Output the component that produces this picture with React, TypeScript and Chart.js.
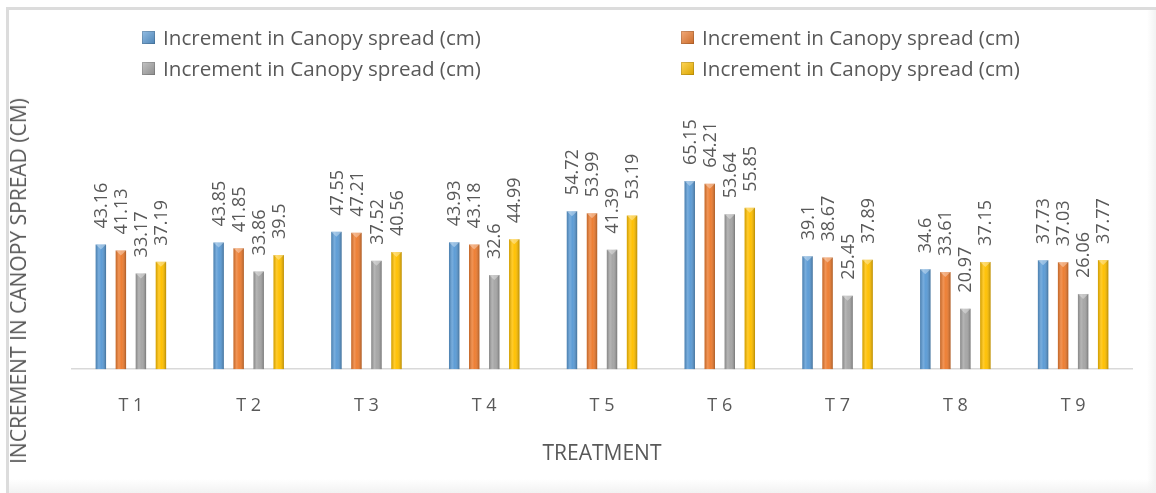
import React, { useEffect, useRef } from "react";
import { Chart, registerables } from "chart.js";

Chart.register(...registerables);

const categories = ["T 1", "T 2", "T 3", "T 4", "T 5", "T 6", "T 7", "T 8", "T 9"];
const seriesName = "Increment in Canopy spread (cm)";
const series1 = [43.16, 43.85, 47.55, 43.93, 54.72, 65.15, 39.1, 34.6, 37.73];
const series2 = [41.13, 41.85, 47.21, 43.18, 53.99, 64.21, 38.67, 33.61, 37.03];
const series3 = [33.17, 33.86, 37.52, 32.6, 41.39, 53.64, 25.45, 20.97, 26.06];
const series4 = [37.19, 39.5, 40.56, 44.99, 53.19, 55.85, 37.89, 37.15, 37.77];
const colors = ["#5B9BD5", "#ED7D31", "#A5A5A5", "#FFC000"];
const xTitle = "TREATMENT";
const yTitle = "INCREMENT IN CANOPY SPREAD (CM)";

const FONT = "'Open Sans', 'Noto Sans', sans-serif";
const TEXT = "#595959";

const bevelPlugin = {
  id: "bevel",
  afterDatasetsDraw(chart: any) {
    const ctx = chart.ctx;
    chart.data.datasets.forEach((_: any, di: number) => {
      const meta = chart.getDatasetMeta(di);
      meta.data.forEach((bar: any) => {
        const { x, y, base, width } = bar.getProps(["x", "y", "base", "width"], true);
        const l = x - width / 2;
        const r = x + width / 2;
        ctx.save();
        const g = ctx.createLinearGradient(l, 0, r, 0);
        g.addColorStop(0, "rgba(0,0,0,0.18)");
        g.addColorStop(0.3, "rgba(255,255,255,0.18)");
        g.addColorStop(0.55, "rgba(255,255,255,0.02)");
        g.addColorStop(1, "rgba(0,0,0,0.28)");
        ctx.fillStyle = g;
        ctx.fillRect(l, y, width, base - y);
        ctx.beginPath();
        ctx.moveTo(l, y);
        ctx.lineTo(r, y);
        ctx.lineTo(x, y + 5);
        ctx.closePath();
        ctx.fillStyle = "rgba(255,255,255,0.35)";
        ctx.fill();
        ctx.restore();
      });
    });
  },
};

const labelPlugin = {
  id: "vlabels",
  afterDatasetsDraw(chart: any) {
    const ctx = chart.ctx;
    chart.data.datasets.forEach((ds: any, di: number) => {
      const meta = chart.getDatasetMeta(di);
      meta.data.forEach((bar: any, i: number) => {
        const { x, y } = bar.getProps(["x", "y"], true);
        ctx.save();
        ctx.translate(x + 1, y - 16);
        ctx.rotate(-Math.PI / 2);
        ctx.font = `18px ${FONT}`;
        ctx.fillStyle = TEXT;
        ctx.textAlign = "left";
        ctx.textBaseline = "middle";
        ctx.fillText(String(ds.data[i]), 0, 0);
        ctx.restore();
      });
    });
  },
};

function LegendItem({ color, left, top }: { color: string; left: number; top: number }) {
  return (
    <div
      style={{
        position: "absolute",
        left,
        top: top - 14,
        height: 28,
        display: "flex",
        alignItems: "center",
        fontFamily: FONT,
        fontSize: 20.6,
        color: TEXT,
        whiteSpace: "nowrap",
      }}
    >
      <span
        style={{
          display: "inline-block",
          width: 13,
          height: 13,
          marginRight: 8,
          background: `linear-gradient(135deg, rgba(255,255,255,0.35), rgba(0,0,0,0.15)), ${color}`,
          boxShadow: `inset 0 0 0 1px rgba(0,0,0,0.15)`,
        }}
      />
      {seriesName}
    </div>
  );
}

export default function App() {
  const ref = useRef<HTMLCanvasElement | null>(null);

  useEffect(() => {
    if (!ref.current) return;
    const chart = new Chart(ref.current, {
      type: "bar",
      data: {
        labels: categories,
        datasets: [series1, series2, series3, series4].map((d, i) => ({
          label: seriesName,
          data: d,
          backgroundColor: colors[i],
          borderWidth: 0,
          categoryPercentage: 0.68,
          barPercentage: 0.52,
        })),
      },
      options: {
        animation: false,
        responsive: false,
        events: [],
        layout: { padding: { left: 72, right: 24, top: 167, bottom: 26 } },
        plugins: {
          legend: { display: false },
          tooltip: { enabled: false },
        },
        scales: {
          x: {
            grid: { display: false, drawTicks: false },
            border: { display: true, color: "#D9D9D9", width: 1.5 },
            ticks: { color: TEXT, font: { family: FONT, size: 18 }, padding: 26 },
            title: {
              display: true,
              text: xTitle,
              color: TEXT,
              font: { family: FONT, size: 21 },
              padding: { top: -1, bottom: 0 },
            },
          },
          y: {
            display: false,
            min: 0,
            max: 70,
          },
        },
      },
      plugins: [bevelPlugin, labelPlugin],
    });
    return () => chart.destroy();
  }, []);

  return (
    <div
      style={{
        position: "fixed",
        left: 0,
        top: 0,
        width: 1156,
        height: 493,
        background: "#fff",
        overflow: "hidden",
      }}
    >
      <div
        style={{
          position: "absolute",
          left: 6,
          top: 7,
          right: 0,
          bottom: 0,
          borderTop: "3px solid #DCDCDC",
          borderLeft: "3px solid #DCDCDC",
        }}
      />
      <div
        style={{
          position: "absolute",
          right: 0,
          top: 10,
          width: 9,
          bottom: 0,
          background: "linear-gradient(90deg, rgba(240,240,240,0), #F2F2F2)",
        }}
      />
      <div
        style={{
          position: "absolute",
          left: 9,
          height: 14,
          right: 0,
          bottom: 0,
          background: "linear-gradient(180deg, rgba(240,240,240,0), #F2F2F2)",
        }}
      />
      <canvas
        ref={ref}
        width={1156}
        height={493}
        style={{ position: "absolute", left: 0, top: 0, width: 1156, height: 493 }}
      />
      <LegendItem color={colors[0]} left={142} top={37} />
      <LegendItem color={colors[1]} left={681} top={37} />
      <LegendItem color={colors[2]} left={142} top={68} />
      <LegendItem color={colors[3]} left={681} top={68} />
      <div
        style={{
          position: "absolute",
          left: 18,
          top: 281,
          transform: "translate(-50%, -50%) rotate(-90deg)",
          fontFamily: FONT,
          fontSize: 21,
          color: TEXT,
          whiteSpace: "nowrap",
        }}
      >
        {yTitle}
      </div>
    </div>
  );
}
